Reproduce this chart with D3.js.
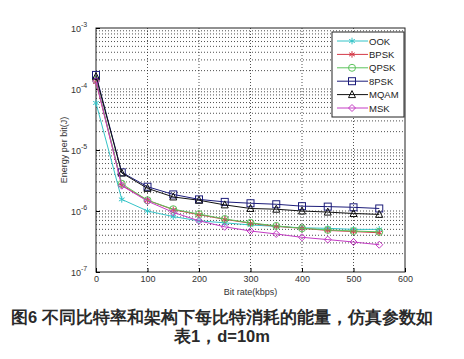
<!DOCTYPE html>
<html>
<head>
<meta charset="utf-8">
<script src="https://cdn.jsdelivr.net/npm/d3@7"></script>
<style>
  body { margin: 0; background: #fff; }
  svg text { font-family: Arial, "Liberation Sans", sans-serif; }
</style>
</head>
<body>
<div class="canvas"></div>
<script>
// data
const bitRates = [0, 50, 100, 150, 200, 250, 300, 350, 400, 450, 500, 550];
const ook  = [5.9e-5, 1.55e-6, 1.0e-6, 8.1e-7, 6.9e-7, 6.4e-7, 5.9e-7, 5.6e-7, 5.3e-7, 5.2e-7, 5.0e-7, 5.0e-7];
const bpsk = [1.3e-4, 2.65e-6, 1.5e-6, 1.05e-6, 8.7e-7, 7.3e-7, 6.3e-7, 5.6e-7, 5.2e-7, 4.8e-7, 4.6e-7, 4.4e-7];
const qpsk = [1.4e-4, 2.8e-6, 1.5e-6, 1.07e-6, 8.9e-7, 7.4e-7, 6.4e-7, 5.7e-7, 5.2e-7, 4.9e-7, 4.7e-7, 4.55e-7];
const psk8 = [1.7e-4, 4.3e-6, 2.5e-6, 1.87e-6, 1.55e-6, 1.41e-6, 1.34e-6, 1.29e-6, 1.2e-6, 1.18e-6, 1.15e-6, 1.1e-6];
const mqam = [1.6e-4, 4.2e-6, 2.35e-6, 1.7e-6, 1.5e-6, 1.26e-6, 1.1e-6, 1.07e-6, 1.0e-6, 0.96e-6, 0.91e-6, 0.88e-6];
const msk  = [1.35e-4, 2.6e-6, 1.45e-6, 9.5e-7, 6.9e-7, 5.5e-7, 4.7e-7, 4.2e-7, 3.7e-7, 3.4e-7, 3.1e-7, 2.8e-7];
const seriesNames = ['OOK', 'BPSK', 'QPSK', '8PSK', 'MQAM', 'MSK'];
const xTicks = [0, 100, 200, 300, 400, 500, 600];
const yExps = [-3, -4, -5, -6, -7];
const captionLines = ['图6 不同比特率和架构下每比特消耗的能量，仿真参数如', '表1，d=10m'];

const series = [
    { name: 'OOK',  values: ook,  colour: '#35c4c8', marker: 'star' },
    { name: 'BPSK', values: bpsk, colour: '#d43a48', marker: 'star' },
    { name: 'QPSK', values: qpsk, colour: '#5cc35c', marker: 'circle' },
    { name: '8PSK', values: psk8, colour: '#1c1c7a', marker: 'square' },
    { name: 'MQAM', values: mqam, colour: '#111111', marker: 'triangle' },
    { name: 'MSK',  values: msk,  colour: '#c43cc4', marker: 'diamond' }
];

const W = 464, H = 359;
const plot = { left: 96, right: 405, top: 28, bottom: 272 };

const svg = d3.select('.canvas')
    .append('svg')
    .attr('width', W)
    .attr('height', H);

const x = d3.scaleLinear().domain([0, 600]).range([plot.left, plot.right]);
const y = d3.scaleLog().domain([1e-7, 1e-3]).range([plot.bottom, plot.top]);

// grid: dotted, major + log minors
const grid = svg.append('g').attr('stroke', '#222').attr('stroke-width', 0.8)
    .attr('stroke-dasharray', '1,2');
const minorVals = [];
for (let e = -7; e < -3; e++) {
    for (let m = 1; m <= 9; m++) minorVals.push(m * Math.pow(10, e));
}
grid.selectAll('line.h')
    .data(minorVals.filter(v => v > 1e-7))
    .enter().append('line')
    .attr('x1', plot.left).attr('x2', plot.right)
    .attr('y1', d => y(d)).attr('y2', d => y(d));
grid.selectAll('line.v')
    .data(xTicks.slice(1, -1))
    .enter().append('line')
    .attr('x1', d => x(d)).attr('x2', d => x(d))
    .attr('y1', plot.top).attr('y2', plot.bottom);

// frame
svg.append('rect')
    .attr('x', plot.left).attr('y', plot.top)
    .attr('width', plot.right - plot.left).attr('height', plot.bottom - plot.top)
    .attr('fill', 'none').attr('stroke', '#222').attr('stroke-width', 1);

// x ticks + labels
const xAxis = d3.axisBottom(x).tickValues(xTicks).tickSize(-4).tickPadding(3.5);
svg.append('g')
    .attr('transform', `translate(0,${plot.bottom})`)
    .call(xAxis)
    .call(g => g.select('.domain').remove())
    .call(g => g.selectAll('text').attr('font-size', 9).attr('fill', '#333'));

// y ticks with superscript labels
const yAxis = d3.axisLeft(y).tickValues(yExps.map(e => Math.pow(10, e))).tickSize(-4).tickFormat('');
svg.append('g')
    .attr('transform', `translate(${plot.left},0)`)
    .call(yAxis)
    .call(g => g.select('.domain').remove());

const yLab = svg.append('g');
yExps.forEach(e => {
    yLab.append('text')
        .attr('x', plot.left - 15)
        .attr('y', y(Math.pow(10, e)) + 4)
        .attr('text-anchor', 'end')
        .attr('font-size', 9)
        .attr('fill', '#333')
        .text('10');
    yLab.append('text')
        .attr('x', plot.left - 15)
        .attr('y', y(Math.pow(10, e)) - 1)
        .attr('font-size', 7)
        .attr('fill', '#333')
        .text(e);
});

// axis titles
svg.append('text')
    .attr('x', (plot.left + plot.right) / 2)
    .attr('y', 295)
    .attr('text-anchor', 'middle')
    .attr('font-size', 9)
    .attr('fill', '#333')
    .text('Bit rate(kbps)');
svg.append('text')
    .attr('transform', `translate(67,${(plot.top + plot.bottom) / 2}) rotate(-90)`)
    .attr('text-anchor', 'middle')
    .attr('font-size', 9)
    .attr('fill', '#333')
    .text('Energy per bit(J)');

// markers
const drawMarker = (g, type, cx, cy, colour) => {
    const s = 3.5;
    if (type === 'square') {
        g.append('rect').attr('x', cx - s).attr('y', cy - s)
            .attr('width', 2 * s).attr('height', 2 * s)
            .attr('fill', 'none').attr('stroke', colour);
    } else if (type === 'circle') {
        g.append('circle').attr('cx', cx).attr('cy', cy).attr('r', s)
            .attr('fill', 'none').attr('stroke', colour);
    } else if (type === 'triangle') {
        g.append('path')
            .attr('d', `M${cx},${cy - s - 0.5}L${cx + s},${cy + s - 0.5}L${cx - s},${cy + s - 0.5}Z`)
            .attr('fill', 'none').attr('stroke', colour);
    } else if (type === 'diamond') {
        g.append('path')
            .attr('d', `M${cx},${cy - s}L${cx + s},${cy}L${cx},${cy + s}L${cx - s},${cy}Z`)
            .attr('fill', 'none').attr('stroke', colour);
    } else {
        g.append('path')
            .attr('d', d3.symbol().type(d3.symbolAsterisk).size(30)())
            .attr('transform', `translate(${cx},${cy})`)
            .attr('fill', 'none').attr('stroke', colour);
    }
};

const line = d3.line()
    .x((d, i) => x(bitRates[i]))
    .y(d => y(d));

const lines = svg.append('g');
series.forEach(s => {
    const g = lines.append('g');
    g.append('path')
        .attr('d', line(s.values))
        .attr('fill', 'none')
        .attr('stroke', s.colour)
        .attr('stroke-width', 1);
    s.values.forEach((v, i) => drawMarker(g, s.marker, x(bitRates[i]), y(v), s.colour));
});

// legend
const leg = svg.append('g');
leg.append('rect')
    .attr('x', 332).attr('y', 32).attr('width', 72).attr('height', 85)
    .attr('fill', '#fff').attr('stroke', '#222');
series.forEach((s, i) => {
    const ly = 41 + i * 13.4;
    leg.append('line')
        .attr('x1', 337).attr('x2', 368)
        .attr('y1', ly).attr('y2', ly)
        .attr('stroke', s.colour);
    drawMarker(leg, s.marker, 352, ly, s.colour);
    leg.append('text')
        .attr('x', 369).attr('y', ly + 3.5)
        .attr('font-size', 9.5)
        .attr('fill', '#222')
        .text(seriesNames[i]);
});

// caption
svg.selectAll('text.cap')
    .data(captionLines)
    .enter().append('text')
    .attr('class', 'cap')
    .attr('x', 222)
    .attr('y', (d, i) => 323 + i * 18.5)
    .attr('text-anchor', 'middle')
    .attr('font-family', '"Noto Sans CJK SC", sans-serif')
    .attr('font-weight', 'bold')
    .attr('font-size', 16.5)
    .attr('fill', '#2a2a2a')
    .text(d => d);
</script>
</body>
</html>
